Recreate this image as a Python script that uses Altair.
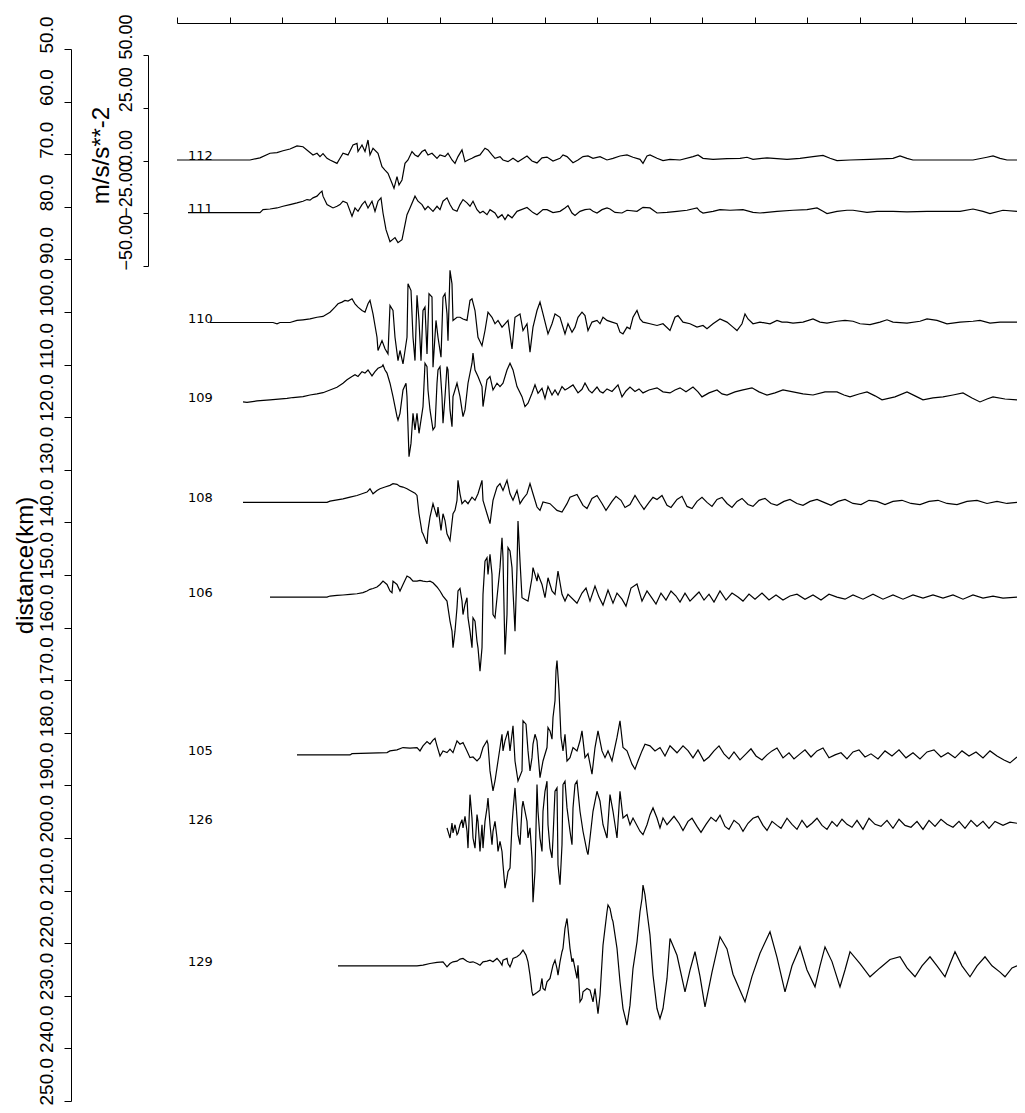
import altair as alt
import pandas as pd

# ---- station table ----
STATIONS = ["112", "111", "110", "109", "108", "106", "105", "126", "129"]
DISTANCES = [71.1, 81.1, 102.0, 117.1, 136.2, 154.2, 184.2, 197.4, 224.3]   # km
LABEL_T = 1.1          # s, where the station labels sit
GAIN_KM = 10.0 / 25.0  # km of record section per m/s/s

DIST_TICKS = [50 + 10 * i for i in range(21)]
AMP_TICKS = [-50, -25, 0, 25, 50]
TOP_TICKS = [5.25 * i for i in range(17)]

# ---- traces: (time s, acceleration m/s/s) ----
TR_112 = [(0, 0), (7.3, 0), (8.3, 1.0), (9.3, 3.2), (10.0, 3.5), (10.6, 4.4), (11.3, 5.2), (12.0, 6.7), (12.6, 6.3),
          (13.6, 2.4), (14.0, 3.2), (14.3, 1.6), (14.6, 3.0), (15.0, 0.8), (15.3, 0), (16.0, -1.6), (16.3, 0.8),
          (16.6, 3.2), (17.1, 2.4), (17.6, 7.1), (18.0, 7.9), (18.1, 4.0), (18.5, 7.1), (18.8, 4.0), (19.1, 9.5),
          (19.3, 2.4), (19.6, 5.6), (20.1, 3.2), (20.5, -3.2), (20.8, -4.8), (21.1, -6.3), (21.5, -11.1), (21.7, -13.5),
          (22.0, -7.9), (22.2, -11.9), (22.5, -9.5), (22.8, -1.6), (23.1, 0), (23.5, 4.0), (23.8, 2.4), (24.1, 1.6),
          (24.5, 4.0), (24.8, 4.8), (25.1, 2.4), (25.5, 3.2), (26.0, 0.8), (26.3, 2.4), (26.8, 1.6), (27.1, 3.2),
          (27.5, 0), (27.8, -1.6), (28.1, 1.6), (28.5, 4.8), (28.8, -0.8), (29.1, 0), (29.5, 0.8), (29.8, 1.6),
          (30.3, 2.4), (30.8, 5.6), (31.1, 4.8), (31.5, 2.4), (31.8, 0.8), (32.3, 1.6), (32.6, 0), (33.1, -0.8),
          (33.6, 0.8), (34.1, -0.8), (35.0, 1.9), (35.5, -0.5), (36.0, -1.4), (36.5, 1.0), (37.0, 1.4), (37.6, -0.5),
          (38.3, 0.8), (38.6, 2.4), (39.0, 1.6), (39.6, -1.3), (40.1, 0), (40.6, 1.6), (41.1, 1.9), (41.6, 0.8),
          (42.3, 1.6), (43.0, 0), (43.6, 0.8), (44.3, 1.9), (45.0, 2.4), (45.6, 1.3), (46.3, 0.3), (46.6, -1.6),
          (47.0, 1.9), (47.3, 2.4), (48.0, 0.8), (48.6, -0.3), (49.3, 0.3), (50.3, 0), (51.6, 1.6), (52.1, 2.4),
          (52.6, 0.8), (53.6, 0.3), (55.0, 0.6), (56.3, 0.8), (57.0, 1.3), (57.6, 0.3), (59.0, 1.0), (61.0, 0.3),
          (62.3, 0.8), (63.6, 1.6), (64.6, 2.2), (65.3, 0.8), (66.0, -0.3), (67.3, 0), (69.3, 0.3), (71.6, 0.8),
          (72.3, 1.9), (73.0, 0.8), (73.6, 0), (75.0, 0), (77.0, 0), (79.6, 0), (81.0, 1.3), (81.6, 1.9),
          (82.3, 0.8), (83.0, 0), (84.0, 0)]

TR_111 = [(1.1, 0), (8.3, 0), (8.6, 1.4), (9.3, 1.7), (10.0, 2.2), (10.6, 3.0), (11.3, 3.8), (12.0, 4.6), (12.6, 5.4),
          (13.0, 6.2), (13.3, 5.9), (13.6, 7.0), (14.0, 7.8), (14.3, 9.4), (14.5, 10.2), (14.6, 7.8), (15.0, 3.8),
          (15.3, 3.0), (15.6, 2.2), (16.0, 3.0), (16.3, 3.8), (16.6, 5.4), (17.0, 4.6), (17.5, -1.7), (17.8, 2.2),
          (18.1, 0.6), (18.5, 3.8), (18.8, 5.4), (19.1, 2.2), (19.5, 5.4), (19.8, 0.6), (20.1, 5.4), (20.4, 7.0),
          (20.6, -0.2), (20.9, -8.1), (21.3, -13.8), (21.8, -11.9), (22.1, -14.3), (22.5, -12.9), (22.8, -5.7),
          (23.0, -1.0), (23.3, 2.2), (23.8, 7.8), (24.1, 5.4), (24.5, 3.8), (24.8, 1.4), (25.1, 3.0), (25.6, 0.6),
          (26.0, 3.0), (26.3, 1.4), (26.6, 5.4), (27.0, 7.0), (27.3, 3.8), (27.6, 1.4), (28.0, 0.6), (28.3, 3.8),
          (28.6, 6.2), (29.0, 4.6), (29.3, 3.0), (29.6, 5.4), (30.0, 1.4), (30.3, -0.2), (30.6, 0.6), (31.0, -1.0),
          (31.3, 1.4), (31.8, -0.2), (32.1, -2.5), (32.5, -1.0), (32.8, -3.3), (33.1, -1.0), (33.5, -2.5), (34.0, 0.6),
          (35.0, 2.4), (35.6, 0), (36.0, -1.0), (36.6, 1.4), (37.0, 1.4), (37.6, 0), (38.3, 0.6), (38.8, 2.2),
          (39.1, 3.3), (39.5, -0.2), (39.8, -1.4), (40.3, 0.6), (40.8, 1.4), (41.3, 1.7), (41.6, 0.6), (42.0, -0.2),
          (42.5, 1.4), (43.0, 2.2), (43.3, 1.7), (43.8, 0.1), (44.5, -0.2), (45.0, 1.1), (46.0, 0.6), (46.6, 2.5),
          (47.3, 2.2), (48.0, -0.2), (49.0, 0.1), (50.0, 0.6), (51.0, 1.1), (52.0, 2.2), (52.3, 0.6), (52.6, -0.2),
          (53.6, 0.6), (54.3, 1.4), (55.3, 1.1), (56.6, 1.4), (57.6, 0.1), (58.3, -0.2), (60.0, 0.6), (61.6, 1.1),
          (63.0, 1.4), (64.0, 2.2), (64.6, 0.6), (65.0, -0.5), (66.0, 0.6), (67.0, 1.1), (67.6, 1.1), (69.0, 0.1),
          (70.0, 0.6), (71.6, 0.6), (73.0, 0.3), (75.0, 0.6), (78.3, 0.6), (79.6, 1.7), (80.6, 0.6), (81.3, -0.5),
          (82.6, 1.1), (84.0, 0.6)]

TR_110 = [(3.3, 0), (9.6, 0), (10.0, -0.6), (10.3, 0), (11.3, 0), (12.0, 1.0), (12.6, 1.3), (13.3, 1.7), (14.0, 2.5),
          (14.6, 2.9), (15.3, 4.9), (15.8, 7.3), (16.1, 8.9), (16.5, 9.7), (16.8, 10.5), (17.1, 10.2), (17.5, 11.3),
          (17.8, 8.9), (18.1, 7.3), (18.5, 5.7), (18.8, 4.9), (19.1, 8.9), (19.3, 10.5), (19.6, 4.1), (20.0, -7.0),
          (20.1, -13.3), (20.5, -8.6), (20.8, -12.5), (21.1, -14.9), (21.3, 8.1), (21.6, 5.7), (21.8, -7.0),
          (22.1, -18.1), (22.3, -13.3), (22.6, -19.7), (23.0, -7.0), (23.1, 18.4), (23.4, 15.2), (23.6, -7.0),
          (23.8, -18.1), (24.0, 12.9), (24.2, 1.0), (24.4, -18.1), (24.6, 5.7), (24.8, 7.3), (25.0, -14.9),
          (25.2, 13.7), (25.5, 12.1), (25.6, -21.3), (25.9, 1.0), (26.1, -7.0), (26.4, -16.5), (26.6, 12.1),
          (26.8, 13.7), (27.0, 4.1), (27.1, -8.6), (27.3, 24.8), (27.5, 18.4), (27.6, 1.0), (28.0, 2.5), (28.3, 2.5),
          (28.6, 1.7), (29.0, 1.0), (29.3, 10.5), (29.5, 11.3), (29.8, 5.7), (30.1, -7.0), (30.5, -11.0), (30.8, -3.8),
          (31.1, 4.9), (31.5, 2.5), (31.8, -0.6), (32.1, 1.0), (32.5, -2.2), (32.8, -0.6), (33.1, 1.0), (33.5, -12.5),
          (33.8, 2.5), (34.3, 4.1), (34.6, -3.8), (35.0, -0.6), (35.3, -14.1), (35.6, -2.2), (36.0, 5.7), (36.3, 9.7),
          (36.6, 4.1), (37.1, -5.4), (37.5, -0.6), (37.8, 4.1), (38.3, 2.5), (38.8, -5.4), (39.1, -0.6), (39.5, -4.6),
          (39.8, -2.2), (40.1, 2.5), (40.5, 4.9), (40.8, 3.3), (41.1, -3.8), (41.5, 0.2), (42.0, 1.0), (42.3, -0.6),
          (42.6, 2.5), (43.0, 1.0), (43.5, 0.2), (44.0, -0.6), (44.3, -4.6), (44.6, -5.4), (45.0, -2.2), (45.3, -3.0),
          (45.6, 2.5), (46.0, 5.7), (46.3, 1.7), (46.6, 0.2), (47.3, -0.6), (48.0, -1.4), (48.6, -0.6), (49.3, -3.8),
          (49.8, 2.5), (50.1, 3.3), (50.6, 0.2), (51.3, -0.6), (52.0, -2.2), (52.6, -1.4), (53.0, -3.0), (53.6, -0.6),
          (54.3, 1.7), (55.0, 0.2), (55.6, -2.2), (56.0, -3.8), (56.5, -0.6), (56.8, 4.1), (57.1, 1.7), (57.6, -0.6),
          (58.3, 0.2), (59.3, -0.6), (60.0, 1.0), (60.5, 0.2), (61.0, 0.2), (61.6, -0.3), (62.6, 0.2), (63.6, 1.7),
          (64.3, 0.2), (65.0, -0.3), (66.0, 0.6), (66.8, 1.0), (67.6, 0.6), (68.3, -0.6), (69.3, -1.0), (70.3, 0.2),
          (71.0, 1.3), (71.6, 0.2), (73.0, -0.3), (74.3, 0.6), (75.0, 1.7), (76.0, 1.0), (77.0, -0.6), (78.3, 0.2),
          (79.6, 0.6), (80.3, 1.0), (81.3, -0.3), (82.3, 0.2), (84.0, 0.2)]

TR_109 = [(6.6, 0), (7.0, -0.2), (8.0, 0.5), (9.3, 1.0), (11.0, 1.7), (11.6, 2.1), (12.6, 2.5), (13.3, 3.3), (14.0, 3.8),
          (14.6, 4.4), (15.3, 5.7), (16.0, 7.0), (16.6, 8.9), (17.0, 10.5), (17.5, 12.1), (17.8, 12.9), (18.1, 12.1),
          (18.5, 14.4), (18.8, 13.7), (19.1, 15.2), (19.5, 12.4), (19.8, 14.4), (20.1, 16.0), (20.5, 16.8),
          (20.6, 17.6), (20.8, 15.2), (21.0, 13.7), (21.3, 8.9), (21.6, 2.5), (22.0, -7.0), (22.1, -8.6),
          (22.3, -5.4), (22.6, 5.7), (22.9, 8.9), (23.0, 2.5), (23.2, -26.0), (23.4, -19.7), (23.6, -5.4),
          (23.8, -13.3), (24.0, -5.4), (24.2, -14.9), (24.5, -5.4), (24.6, -2.2), (24.8, 18.4), (25.0, 16.8),
          (25.1, 5.7), (25.3, -3.8), (25.6, -13.3), (25.8, -11.8), (26.0, 8.9), (26.1, 15.2), (26.3, 16.8),
          (26.5, 2.5), (26.6, -10.1), (26.8, 2.5), (27.0, 16.8), (27.1, 15.2), (27.3, -3.8), (27.5, -11.8),
          (27.6, 2.5), (28.0, 8.9), (28.3, 2.5), (28.6, -7.0), (28.8, -3.8), (29.1, 8.9), (29.5, 18.4), (29.6, 23.2),
          (29.8, 15.2), (30.1, 12.1), (30.5, 7.3), (30.6, -2.2), (31.0, 10.5), (31.3, 12.1), (31.6, 5.7), (32.0, 8.9),
          (32.3, 7.3), (32.6, 8.9), (33.0, 15.2), (33.3, 18.4), (33.6, 15.2), (34.0, 7.3), (34.5, 2.5), (34.8, -2.2),
          (35.1, -0.6), (35.5, 4.1), (35.8, 8.1), (36.1, 4.1), (36.5, 6.5), (36.8, 1.7), (37.1, 7.3), (37.5, 3.3),
          (37.8, 5.7), (38.1, 3.3), (38.5, 7.3), (38.8, 5.7), (39.1, 6.5), (39.6, 8.1), (40.1, 4.3), (40.5, 6.0),
          (40.8, 9.0), (41.2, 5.5), (41.5, 4.3), (42.0, 7.1), (42.3, 5.0), (42.6, 4.3), (43.0, 6.2), (43.5, 5.0),
          (44.1, 8.1), (44.5, 2.4), (44.9, 5.2), (45.3, 7.1), (45.8, 5.0), (46.2, 6.2), (46.6, 4.3), (47.2, 5.7),
          (48.0, 6.7), (48.6, 4.8), (49.3, 4.3), (49.8, 5.7), (50.3, 6.7), (50.9, 4.8), (51.6, 7.1), (52.1, 4.8),
          (52.5, 2.4), (53.2, 4.3), (54.0, 5.7), (54.5, 3.8), (55.0, 3.3), (55.8, 4.8), (56.6, 5.7), (57.5, 6.7),
          (58.2, 4.8), (59.0, 3.3), (59.8, 4.3), (60.6, 5.7), (61.6, 4.8), (62.6, 3.8), (63.6, 3.3), (64.8, 4.8),
          (66.0, 4.8), (66.7, 3.3), (67.3, 2.4), (68.2, 3.8), (69.0, 4.8), (69.8, 2.9), (70.5, 1.0), (71.8, 2.4),
          (73.0, 4.8), (73.8, 2.9), (74.6, 1.0), (75.6, 1.9), (76.6, 2.4), (77.6, 3.3), (78.6, 4.3), (79.5, 1.9),
          (80.3, 0), (81.0, 1.4), (81.6, 2.4), (82.8, 1.4), (84.0, 1.0)]

TR_108 = [(6.6, 0), (15.0, 0), (15.3, 0.6), (16.6, 1.7), (17.3, 2.5), (18.0, 3.3), (18.5, 4.1), (19.0, 4.9), (19.3, 6.5),
          (19.6, 4.1), (20.0, 5.7), (20.3, 6.5), (20.8, 7.3), (21.3, 8.1), (21.6, 8.9), (22.0, 8.6), (22.3, 7.6),
          (22.6, 7.3), (23.0, 6.5), (23.3, 5.7), (23.8, 4.4), (24.0, 3.3), (24.2, -5.4), (24.5, -14.1), (24.6, -14.9),
          (25.0, -19.7), (25.1, -13.3), (25.3, -7.0), (25.6, -0.6), (25.8, -3.8), (26.0, -7.0), (26.1, -2.2),
          (26.4, -13.3), (26.6, -5.4), (26.8, -8.6), (27.0, -14.9), (27.3, -18.1), (27.6, -5.4), (27.8, -3.8),
          (28.0, 1.0), (28.1, 10.5), (28.3, 4.1), (28.5, -0.6), (28.8, 1.0), (29.1, -0.6), (29.5, 2.5), (29.8, 1.0),
          (30.1, 4.1), (30.5, 10.5), (30.6, 1.0), (31.0, -5.4), (31.3, -10.1), (31.6, 1.0), (32.0, 7.3), (32.3, 8.9),
          (32.6, 5.7), (33.0, 10.5), (33.3, 4.1), (33.6, 1.0), (34.0, 5.7), (34.3, -0.6), (34.6, 1.7), (35.0, 4.1),
          (35.3, 8.9), (35.6, 4.1), (36.0, -2.2), (36.3, -3.8), (36.6, 0.2), (37.3, -0.6), (38.0, -3.8), (38.5, -4.6),
          (39.0, -0.6), (39.3, 2.5), (40.0, 3.8), (40.6, -1.4), (41.0, -2.9), (41.5, 1.9), (42.0, 3.3), (42.5, -0.5),
          (42.9, -3.8), (43.5, 0.5), (43.9, 2.9), (44.4, 1.0), (44.8, -2.4), (45.3, -1.0), (45.8, 3.3), (46.3, -0.5),
          (46.7, -3.3), (47.2, 0), (47.6, 2.4), (48.0, 1.4), (48.5, 3.3), (49.0, -1.4), (49.4, -2.4), (50.0, 1.4),
          (50.5, 2.9), (51.0, -1.9), (51.5, -2.9), (52.0, 0.5), (52.5, 2.4), (53.0, 0), (53.5, -1.9), (54.0, 1.4),
          (54.5, 2.4), (55.0, -0.5), (55.5, -2.4), (56.0, 0.5), (56.5, 1.9), (57.1, -1.0), (57.6, -1.9), (58.2, 1.0),
          (58.8, 1.9), (59.4, -0.5), (60.0, -1.4), (60.7, 0.5), (61.3, 1.4), (62.0, -0.5), (62.6, -1.4), (63.3, 0.5),
          (64.0, 1.4), (64.7, 0), (65.4, -1.4), (66.1, 0.5), (66.8, 1.4), (67.6, -0.5), (68.4, -1.0), (69.2, 1.0),
          (70.0, 0.5), (70.8, -1.0), (71.6, 0.5), (72.5, 1.0), (73.4, -0.5), (74.3, -1.0), (75.2, 0.5), (76.1, 1.0),
          (77.0, -0.5), (78.0, -1.0), (79.0, 0.5), (80.0, 1.0), (81.0, -0.5), (82.0, 0.5), (83.0, -0.5), (84.0, 0)]

TR_106 = [(9.3, 0), (15.0, 0), (15.3, 0.5), (16.0, 0.8), (16.6, 1.0), (17.3, 1.3), (18.0, 1.6), (18.6, 2.1), (19.0, 2.9),
          (19.3, 3.7), (19.6, 4.1), (20.0, 4.8), (20.3, 6.0), (20.6, 7.6), (21.0, 6.0), (21.3, 2.9), (21.5, 2.1),
          (21.6, 7.6), (22.0, 6.0), (22.3, 2.9), (22.6, 6.0), (23.0, 10.0), (23.3, 9.2), (23.6, 7.6), (24.0, 7.6),
          (24.3, 7.9), (24.6, 7.6), (25.0, 7.3), (25.3, 7.6), (25.6, 6.8), (26.0, 4.8), (26.3, 2.9), (26.6, 0.5),
          (27.0, -1.9), (27.3, -11.4), (27.5, -16.2), (27.6, -24.1), (27.8, -16.2), (28.0, -5.1), (28.1, 2.9),
          (28.3, 4.1), (28.5, -1.9), (28.6, -8.3), (28.8, -3.5), (29.0, -0.3), (29.1, -9.8), (29.3, -16.2),
          (29.5, -24.1), (29.6, -9.8), (29.8, -11.4), (30.0, -21.0), (30.1, -24.1), (30.3, -35.2), (30.5, -24.1),
          (30.6, 1.3), (30.8, 17.1), (31.0, 18.7), (31.1, 10.8), (31.3, 20.3), (31.5, 10.8), (31.6, -8.3), (31.8, -9.8),
          (32.0, -0.3), (32.3, 14.0), (32.5, 28.2), (32.6, 18.7), (32.8, -27.3), (33.0, -8.3), (33.1, 23.5),
          (33.3, 21.9), (33.5, 14.0), (33.6, 2.9), (33.8, -16.2), (34.0, 14.0), (34.1, 36.2), (34.3, 17.1),
          (34.5, -0.3), (34.8, -1.1), (35.1, -1.9), (35.5, 9.2), (35.6, 14.0), (36.0, 7.6), (36.1, 10.8), (36.5, 6.0),
          (36.8, -0.3), (37.1, 9.2), (37.5, 2.9), (37.8, 1.3), (38.1, 12.4), (38.5, 1.3), (38.8, -1.9), (39.1, 1.3),
          (40.0, -2.9), (40.5, 1.9), (40.9, 4.3), (41.3, -1.9), (41.8, 5.2), (42.2, 0), (42.6, -3.8), (43.1, 3.3),
          (43.6, -2.9), (44.0, 1.9), (44.5, -1.0), (44.9, -4.3), (45.4, 4.3), (46.0, 6.2), (46.5, -1.9), (47.0, 2.9),
          (47.5, -0.5), (47.9, -3.3), (48.4, 1.9), (48.9, -1.4), (49.4, 2.9), (49.9, 0.5), (50.3, -2.4), (50.8, 1.9),
          (51.3, -1.9), (51.8, 0.5), (52.2, 2.4), (52.7, -1.4), (53.2, 1.4), (53.7, -2.4), (54.3, 2.9), (54.9, -1.4),
          (55.5, 1.9), (56.1, 0), (56.6, -1.9), (57.2, 1.4), (57.8, -1.0), (58.5, 1.9), (59.2, -1.4), (59.9, 1.0),
          (60.6, -1.4), (61.3, 0.5), (62.0, 1.4), (62.8, -1.0), (63.6, 1.0), (64.4, -1.4), (65.2, 1.4), (66.0, 0),
          (66.8, -1.0), (67.6, 1.0), (68.6, -1.0), (69.6, 1.4), (70.6, -1.0), (71.6, 1.0), (72.6, -1.0), (73.6, 1.0),
          (74.6, -0.5), (75.6, 1.0), (76.6, -0.5), (77.6, 1.0), (78.6, -1.0), (79.6, 1.0), (80.6, -0.5), (81.6, 0.5),
          (82.6, -0.5), (84.0, 0)]

TR_105 = [(12.0, 0), (17.3, 0), (17.5, 0.6), (21.0, 1.1), (21.3, 1.9), (22.0, 2.4), (22.6, 3.5), (23.3, 3.2), (24.0, 3.5),
          (24.3, 1.9), (24.6, 4.3), (25.0, 6.3), (25.3, 5.1), (25.6, 7.0), (25.8, 7.9), (26.0, 4.3), (26.3, -0.5),
          (26.6, 1.9), (27.0, 1.1), (27.3, 2.7), (27.6, 1.1), (28.0, 6.7), (28.3, 5.1), (28.6, 5.9), (29.0, 1.9),
          (29.3, -1.3), (29.6, -1.0), (30.0, -2.9), (30.3, -1.3), (30.6, 3.5), (31.0, 6.7), (31.1, 5.1), (31.3, -7.6),
          (31.6, -17.1), (31.8, -12.4), (32.1, -2.9), (32.5, 9.8), (32.6, 1.9), (32.8, 6.7), (33.1, 11.4), (33.3, 1.9),
          (33.5, 9.8), (33.6, 13.8), (33.8, -2.9), (34.1, -12.4), (34.5, -7.6), (34.6, 16.2), (34.9, 14.6), (35.1, 1.9),
          (35.3, -7.6), (35.5, -1.3), (35.6, 5.1), (35.8, 9.8), (36.0, 6.7), (36.3, -10.8), (36.6, -2.9), (37.0, 3.5),
          (37.1, 13.0), (37.3, 11.4), (37.5, 7.5), (37.6, 17.8), (37.8, 25.7), (37.9, 40.0), (38.0, 44.8), (38.2, 30.5),
          (38.4, 8.3), (38.6, 1.9), (38.8, 9.8), (39.0, -2.9), (39.3, -1.3), (39.6, 3.5), (40.0, 1.9), (40.3, 6.7),
          (40.5, 11.4), (40.8, -1.3), (41.1, 0.6), (41.5, -9.2), (41.8, 3.5), (42.1, 11.4), (42.5, 1.9), (42.8, -1.3),
          (43.1, 1.9), (43.5, -2.9), (44.0, 8.3), (44.3, 16.2), (44.6, 3.5), (45.0, 1.9), (45.5, -4.4), (45.8, -6.8),
          (46.1, -2.9), (46.5, 1.9), (46.8, 5.1), (47.3, 4.3), (47.8, 1.9), (48.3, 3.5), (48.8, -0.5), (49.3, 4.3),
          (50.0, 1.0), (50.6, 4.3), (51.1, 2.0), (51.6, -1.4), (52.1, 2.4), (52.7, -2.9), (53.2, -1.0), (53.7, 1.9),
          (54.2, 4.3), (54.7, 0.5), (55.2, -1.9), (55.7, 1.4), (56.3, -2.4), (56.9, 0.5), (57.4, 2.9), (57.9, -0.5),
          (58.5, -2.4), (59.0, 0), (59.5, 1.9), (60.0, 3.3), (60.6, -1.4), (61.2, 1.0), (61.7, -1.9), (62.3, 0.5),
          (62.8, 2.4), (63.4, -1.0), (64.0, 1.9), (64.6, 3.3), (65.2, -1.4), (65.8, 0), (66.4, 1.0), (67.0, -1.9),
          (67.6, 1.4), (68.2, 2.4), (68.8, -1.0), (69.4, 0.5), (70.1, -1.9), (70.8, 1.9), (71.5, -0.5), (72.2, 2.4),
          (72.9, -1.4), (73.6, 1.0), (74.3, -1.9), (75.0, 1.4), (75.7, 2.4), (76.4, -1.0), (77.1, 1.0), (77.8, -1.4),
          (78.5, 1.9), (79.2, -0.5), (79.9, 1.4), (80.6, -1.4), (81.3, 1.9), (82.0, -0.5), (82.7, -2.4), (83.3, -3.8),
          (84.0, -1.0)]

TR_126 = [(27.0, -1.7), (27.2, -4.9), (27.3, -6.5), (27.5, 0.6), (27.6, -4.1), (27.8, -0.2), (28.0, -4.9), (28.1, -4.1),
          (28.3, -0.2), (28.5, 2.2), (28.6, -1.7), (28.8, 3.8), (29.0, -3.3), (29.1, -11.3), (29.3, 14.1), (29.5, 3.0),
          (29.6, -6.5), (29.8, -11.3), (30.0, 4.6), (30.1, 1.4), (30.3, -12.9), (30.5, -0.2), (30.6, -11.3), (30.8, 1.4),
          (31.0, 7.8), (31.1, 12.5), (31.3, -0.2), (31.5, -9.7), (31.6, -3.3), (31.8, 1.4), (32.0, -6.5), (32.1, -12.9),
          (32.3, -8.1), (32.5, -12.9), (32.6, -19.2), (32.8, -30.3), (33.0, -25.6), (33.1, -22.4), (33.3, -20.8),
          (33.5, -0.2), (33.6, 6.2), (33.8, 17.3), (34.0, 3.0), (34.1, -4.9), (34.3, -9.7), (34.5, 7.8), (34.6, 11.0),
          (35.0, 1.4), (35.1, -6.5), (35.3, -1.7), (35.5, -16.0), (35.6, -37.0), (35.8, -22.4), (36.0, 18.9),
          (36.1, 6.2), (36.3, -6.5), (36.5, -12.9), (36.6, 6.2), (36.8, 15.7), (37.0, 20.5), (37.1, -0.2), (37.3, -11.3),
          (37.5, -16.0), (37.6, -6.5), (37.8, 15.7), (38.0, 17.3), (38.1, -19.2), (38.3, -28.7), (38.5, -9.7),
          (38.6, 18.9), (38.8, 20.5), (39.0, 7.8), (39.3, -3.3), (39.5, -9.7), (39.6, 7.8), (39.8, 18.9), (40.0, 20.5),
          (40.3, 6.2), (40.6, -3.3), (41.0, -12.9), (41.1, -14.4), (41.3, -6.5), (41.6, 6.2), (42.0, 15.7), (42.3, 11.0),
          (42.6, -0.2), (43.0, -6.5), (43.3, 14.1), (43.6, 6.2), (44.0, -6.5), (44.3, 15.7), (44.6, 3.0), (45.0, 4.6),
          (45.3, -0.2), (45.6, 3.0), (46.3, -3.3), (46.6, -4.9), (47.0, -0.2), (47.3, 4.6), (47.6, 7.8), (48.0, 3.0),
          (48.3, -1.7), (48.6, 3.0), (49.0, -0.2), (49.7, 3.8), (50.2, 0.5), (50.6, -2.9), (51.1, 1.4), (51.5, 2.9),
          (52.0, -1.0), (52.4, -3.8), (52.9, 0), (53.4, 3.3), (53.9, 1.4), (54.3, 4.3), (54.8, -1.0), (55.2, -2.4),
          (55.7, 1.9), (56.2, 0), (56.6, -3.3), (57.1, 0.5), (57.6, 2.9), (58.1, 3.8), (58.6, -0.5), (59.0, -2.9),
          (59.5, 1.4), (60.0, -0.5), (60.4, -1.9), (61.0, 2.9), (61.5, 0), (62.0, -2.4), (62.5, 1.9), (63.0, -1.4),
          (63.5, 0.5), (64.0, 2.9), (64.5, -0.5), (65.0, -2.4), (65.5, 1.4), (66.0, -1.0), (66.5, 2.4), (67.0, 0),
          (67.5, -1.4), (68.0, 1.9), (68.6, -2.4), (69.2, 2.9), (69.8, 0), (70.4, -1.0), (71.0, 1.9), (71.6, -1.9),
          (72.2, 2.4), (72.8, -0.5), (73.4, -1.4), (74.0, 1.4), (74.6, -2.4), (75.2, 1.9), (75.8, -1.0), (76.4, 2.4),
          (77.0, 0), (77.6, -1.4), (78.2, 1.4), (78.8, -1.9), (79.4, 1.9), (80.0, -1.0), (80.6, 1.4), (81.2, -1.9),
          (81.8, 1.4), (82.6, -0.5), (83.3, 1.0), (84.0, 0.5)]

TR_129 = [(16.1, 0), (24.0, 0), (24.6, 0.3), (25.3, 1.1), (26.0, 1.6), (26.6, 1.9), (27.0, -0.5), (27.3, 1.1), (27.6, 1.9),
          (28.0, 2.2), (28.3, 3.2), (28.6, 3.5), (29.0, 2.2), (29.3, 1.6), (29.6, 1.9), (30.0, 1.1), (30.3, 0.3),
          (30.6, 1.9), (31.0, 2.2), (31.3, 2.7), (31.6, 1.9), (32.0, 3.5), (32.3, 1.9), (32.5, 0.3), (32.6, 2.7),
          (33.0, 3.5), (33.1, 1.1), (33.3, -0.5), (33.5, 1.9), (33.6, 3.5), (34.0, 4.3), (34.3, 5.4), (34.6, 7.5),
          (34.9, 5.1), (35.1, 1.9), (35.3, -4.4), (35.5, -12.4), (35.6, -14.0), (36.0, -12.7), (36.3, -11.6),
          (36.5, -6.0), (36.6, -10.8), (36.8, -11.6), (37.0, -7.6), (37.3, -6.0), (37.6, 0.3), (37.8, 2.7), (38.0, -1.3),
          (38.1, -4.4), (38.3, 1.9), (38.5, 6.7), (38.6, 8.3), (38.8, 17.8), (39.0, 22.5), (39.1, 17.8), (39.3, 8.3),
          (39.5, 1.9), (39.6, 3.5), (39.8, -1.3), (40.0, -6.0), (40.1, 0.3), (40.3, -17.1), (40.5, -15.6), (40.6, -12.4),
          (41.0, -10.8), (41.3, -11.6), (41.6, -17.1), (41.8, -10.8), (42.0, -18.7), (42.1, -22.7), (42.3, -14.0),
          (42.6, 9.8), (42.8, 17.8), (43.0, 25.7), (43.1, 28.9), (43.3, 27.3), (43.5, 22.5), (43.6, 21.0), (44.0, 8.3),
          (44.3, -7.6), (44.6, -20.3), (45.0, -28.2), (45.3, -18.7), (45.6, -1.3), (46.0, 11.4), (46.3, 25.7),
          (46.5, 32.0), (46.6, 38.4), (46.8, 33.7), (47.0, 25.7), (47.3, 14.6), (47.6, -4.4), (48.0, -20.3),
          (48.3, -25.1), (48.6, -20.3), (49.0, -6.0), (49.3, 13.0), (50.0, 5.0), (50.8, -12.4), (51.3, -2.0),
          (51.8, 6.7), (52.3, -5.0), (52.8, -19.5), (53.5, -3.0), (54.3, 13.8), (55.0, 8.0), (55.6, -4.0),
          (56.8, -17.1), (57.5, -5.0), (58.3, 6.0), (59.3, 16.2), (60.0, 4.0), (60.8, -12.4), (61.5, 0), (62.3, 9.0),
          (63.0, -2.0), (63.8, -10.0), (64.3, 0), (64.8, 9.0), (65.5, 2.0), (66.3, -10.0), (66.8, -2.0), (67.3, 6.7),
          (68.3, 1.0), (69.3, -5.2), (70.3, -1.0), (71.3, 3.0), (72.3, 4.3), (73.0, -1.0), (73.8, -5.2), (74.5, 0),
          (75.3, 4.3), (76.0, 0), (76.8, -5.2), (77.3, 1.0), (77.8, 6.7), (78.5, 0), (79.3, -5.2), (80.0, 0),
          (80.8, 4.3), (81.5, 0), (82.3, -3.0), (82.8, -5.2), (83.5, -1.0), (84.0, 0)]

TRACES = {"112": TR_112, "111": TR_111, "110": TR_110, "109": TR_109, "108": TR_108,
          "106": TR_106, "105": TR_105, "126": TR_126, "129": TR_129}

rows = []
for st, dist in zip(STATIONS, DISTANCES):
    for t, a in TRACES[st]:
        rows.append({"station": st, "t": t, "amp": a, "y": dist - a * GAIN_KM})
traces = pd.DataFrame(rows)
labels = pd.DataFrame({"station": STATIONS, "t": [LABEL_T] * len(STATIONS), "y": DISTANCES})
scalebar = pd.DataFrame({"a": AMP_TICKS})

FONT = "Liberation Sans"

x_enc = alt.X("t:Q", scale=alt.Scale(domain=[0, 84], nice=False, zero=False),
              axis=alt.Axis(orient="top", values=TOP_TICKS, labels=False, title=None, grid=False,
                            tickSize=6, domainColor="black", tickColor="black",
                            domainWidth=1, tickWidth=1))
y_enc = alt.Y("y:Q", scale=alt.Scale(domain=[50, 250], range=[26, 1078], nice=False, zero=False),
              axis=alt.Axis(orient="left", offset=106, values=DIST_TICKS, format=".1f", grid=False,
                            labelAngle=270, labelAlign="left", labelBaseline="alphabetic",
                            labelOffset=4, labelBound=False, labelOverlap=False,
                            labelPadding=12, labelFontSize=19, labelFont=FONT, labelColor="black",
                            tickSize=7, domainColor="black", tickColor="black",
                            title="distance(km)", titleFont=FONT, titleFontSize=24,
                            titleFontWeight="normal", titleColor="black", titleAngle=270,
                            titleAlign="center", titleBaseline="alphabetic", titleX=-39, titleY=542))

lines = alt.Chart(traces).mark_line(color="black", strokeWidth=1.2).encode(
    x=x_enc, y=y_enc, detail="station:N")

texts = alt.Chart(labels).mark_text(align="left", baseline="alphabetic", font="DejaVu Sans",
                                    fontSize=13, color="black").encode(
    x=x_enc, y=y_enc, text="station:N")

bar = alt.Chart(scalebar).mark_point(opacity=0).encode(
    y=alt.Y("a:Q", scale=alt.Scale(domain=[-50, 50], range=[243, 32], nice=False, zero=False),
            axis=alt.Axis(orient="left", offset=29, values=AMP_TICKS, format=".2f", grid=False,
                          labelAngle=270, labelAlign="left", labelBaseline="alphabetic",
                          labelOffset=4, labelBound=False, labelOverlap=False,
                          labelPadding=12, labelFontSize=18, labelFont=FONT, labelColor="black",
                          tickSize=5, domainColor="black", tickColor="black",
                          title="m/s/s**-2", titleFont=FONT, titleFontSize=24,
                          titleFontWeight="normal", titleColor="black", titleAngle=270,
                          titleAlign="center", titleBaseline="alphabetic", titleX=-40, titleY=132)))

chart = alt.layer(alt.layer(lines, texts), bar).resolve_scale(y="independent").properties(
    width=840, height=1078,
    background="white",
    autosize=alt.AutoSizeParams(type="none"),
    padding={"left": 169, "top": 15, "right": 0, "bottom": 5},
).configure_view(strokeWidth=0, stroke="transparent")

chart.save("out.html", embed_options={"renderer": "svg", "actions": False})
